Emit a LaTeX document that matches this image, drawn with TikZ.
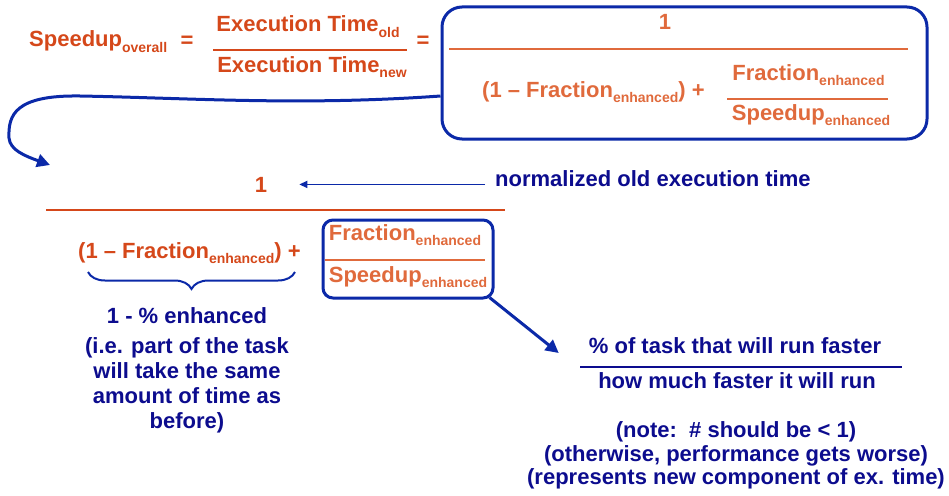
\documentclass[tikz,border=0pt]{standalone}
\usepackage{fontspec}
\setmainfont{Liberation Sans}
\usepackage{xcolor}
\usepackage{tikz}
\usetikzlibrary{calc,arrows.meta,decorations.pathreplacing}

\definecolor{rustOrange}{HTML}{D5481A}
\definecolor{paleOrange}{HTML}{E06A3C}
\definecolor{boxBlue}{HTML}{0B29A8}
\definecolor{inkBlue}{HTML}{0C0C8E}

\newcommand{\lowText}[1]{\raisebox{-5.5pt}{\fontsize{14}{14}\selectfont #1}}
\newcommand{\fracEnhanced}{Fraction\lowText{enhanced}}
\newcommand{\speedupEnhanced}{Speedup\lowText{enhanced}}
\newcommand{\oneMinusFrac}{(1 – \fracEnhanced) +}

\tikzset{
	eqText/.style={font=\fontsize{22}{26}\selectfont\bfseries, inner sep=0pt, anchor=base},
	darkEq/.style={eqText, text=rustOrange},
	paleEq/.style={eqText, text=paleOrange},
	noteText/.style={eqText, text=inkBlue},
	fracBar/.style={line width=2pt},
	roundBox/.style={draw=boxBlue, line width=3pt, rounded corners=#1, inner sep=0pt},
	pointer/.style={draw=boxBlue, line width=3pt, -{Triangle[length=13pt,width=13pt]}},
	thinPointer/.style={draw=boxBlue, line width=1.6pt, -{Triangle[length=8pt,width=7pt]}},
	braceLine/.style={draw=boxBlue, line width=2pt, decorate, decoration={brace, amplitude=17pt}}
}

\begin{document}
\begin{tikzpicture}[x=1pt,y=-1pt]
	\useasboundingbox (0,0) rectangle (949,495);

	% speedup = old / new
	\node[darkEq, anchor=base west] (speedupAll) at (29,47) {Speedup\lowText{overall}};
	\node[darkEq] (eqOne) at (187,48) {=};
	\node[darkEq] (timeOld) at (308,32) {Execution Time\lowText{old}};
	\draw[fracBar, rustOrange] (213,50) -- (407,50);
	\node[darkEq] (timeNew) at (312,72) {Execution Time\lowText{new}};
	\node[darkEq] (eqTwo) at (423,48) {=};

	% boxed form
	\node[roundBox=20pt, minimum width=485pt, minimum height=132pt] (bigBox) at (684.5,73) {};
	\node[paleEq] (oneTop) at (665,30) {1};
	\draw[fracBar, paleOrange] (449,49) -- (908,49);
	\node[paleEq, anchor=base west] (sumTop) at (482,97) {\oneMinusFrac};
	\node[paleEq] (fracTop) at (808.5,80) {\fracEnhanced};
	\draw[fracBar, paleOrange] (727,99) -- (888,99);
	\node[paleEq] (spdTop) at (811,120) {\speedupEnhanced};

	\coordinate (curveEnd) at (50,165);
	\draw[pointer] ($(bigBox.west)+(0,23)$) .. controls (300,106) and (190,98) .. (80,96)
		.. controls (15,95) and (8,115) .. (9,138) .. controls (10,150) and (25,156) .. (curveEnd);

	% second copy with notes
	\node[darkEq] (oneLow) at (261,192) {1};
	\node[noteText, anchor=base west] (normNote) at (495,186) {normalized old execution time};
	\draw[thinPointer, shorten <=10pt, shorten >=32pt] (normNote.west |- oneLow.east) -- (oneLow.east);
	\draw[fracBar, rustOrange] (46,210) -- (505,210);
	\node[darkEq, anchor=base west] (sumLow) at (78,258) {\oneMinusFrac};
	\node[roundBox=10pt, minimum width=170pt, minimum height=78pt] (smallBox) at (408,259) {};
	\node[paleEq] (fracLow) at (405,240) {\fracEnhanced};
	\draw[fracBar, paleOrange] (325,260) -- (485,260);
	\node[paleEq] (spdLow) at (408,282) {\speedupEnhanced};

	\draw[braceLine] (295,272) -- (88,272);
	\node[noteText] (restNote) at (187,323) {1 - \% enhanced};
	\foreach \lineY/\lineText in {353/(i.e. part of the task, 378/will take the same, 403/amount of time as, 428/before)}
	{
		\node[noteText] (rest\lineY) at (187,\lineY) {\lineText};
	}

	\node[noteText] (taskNote) at (735,353) {\% of task that will run faster};
	\draw[fracBar, inkBlue] (580,367) -- (902,367);
	\node[noteText] (howNote) at (737,388) {how much faster it will run};
	\draw[pointer] ($(smallBox.south east)+(-5,-2)$) -- ($(taskNote.base west)+(-30,0)$);

	\foreach \lineY/\lineText in {437/{(note:\ \ \# should be < 1)}, 461/{(otherwise, performance gets worse)}, 484/{(represents new component of ex. time)}}
	{
		\node[noteText] (note\lineY) at (736,\lineY) {\lineText};
	}
\end{tikzpicture}
\end{document}
